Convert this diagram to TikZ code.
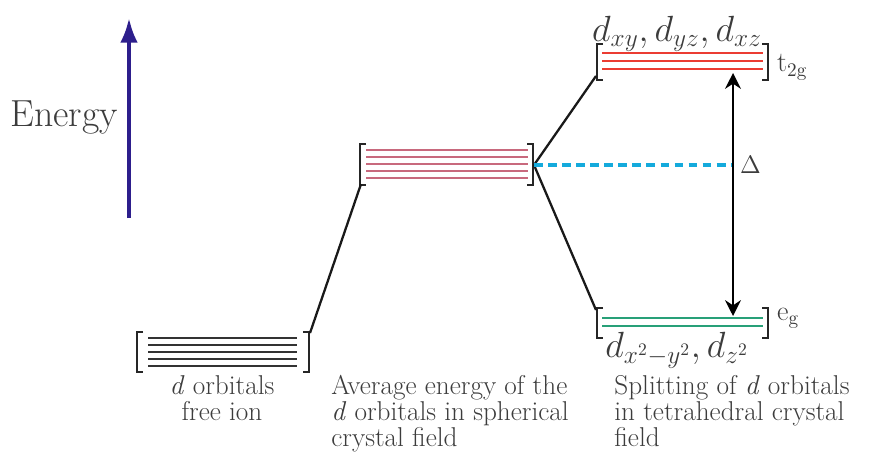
\documentclass[tikz,border=0pt]{standalone}
\usetikzlibrary{arrows.meta}
\definecolor{energyblue}{RGB}{45,30,140}
\definecolor{avgred}{RGB}{200,105,125}
\definecolor{tred}{RGB}{235,60,50}
\definecolor{egreen}{RGB}{40,160,120}
\definecolor{dashcyan}{RGB}{20,170,220}
\definecolor{txt}{RGB}{60,60,60}
\tikzset{
  bracket/.style={line width=1.5pt, black!85},
  link/.style={line width=1.3pt, black!90},
  lbl/.style={text=txt, font=\fontsize{15.5}{14.8}\selectfont, align=left, inner sep=0pt}
}
\begin{document}
\begin{tikzpicture}[x=0.02cm, y=-0.02cm, >=Stealth]
  \useasboundingbox (0,0) rectangle (875,451);

  % energy axis
  \draw[->, energyblue, line width=2.2pt, -{Latex[length=14pt,width=10pt]}] (129,218) -- (129,18);
  \node[text=txt, font=\fontsize{21.5}{24}\selectfont] (energy) at (64,117) {Energy};

  % free ion
  \foreach \y in {338,345,352,359,366}
    \draw[line width=1.1pt, black!80] (148,\y) -- (297,\y);
  \draw[bracket] (143,332) -- (137,332) -- (137,372) -- (143,372);
  \draw[bracket] (303,332) -- (309,332) -- (309,372) -- (303,372);
  \coordinate (free-r) at (310,333);
  \node[lbl, align=center] (freelbl) at (222,398) {\textit{d} orbitals\\free ion};

  % spherical field
  \foreach \y in {150,157,164,171,178}
    \draw[line width=1.1pt, avgred] (366,\y) -- (528,\y);
  \draw[bracket] (366,144) -- (360,144) -- (360,185) -- (366,185);
  \draw[bracket] (527,144) -- (533,144) -- (533,185) -- (527,185);
  \coordinate (avg-l) at (361,184);
  \coordinate (avg-r) at (534,165);
  \node[lbl, anchor=north west] (avglbl) at (331,375) {Average energy of the\\\textit{d} orbitals in spherical\\crystal field};

  % t2g
  \foreach \y in {53,61,69}
    \draw[line width=1.2pt, tred] (602,\y) -- (763,\y);
  \draw[bracket] (603,44) -- (597,44) -- (597,80) -- (603,80);
  \draw[bracket] (762,44) -- (768,44) -- (768,80) -- (762,80);
  \coordinate (t-l) at (596,76);
  \coordinate (t-mid) at (733,73);
  \node[text=txt, font=\fontsize{20}{24}\selectfont] (tlbl) at (677,34) {$d_{xy}, d_{yz}, d_{xz}$};
  \node[text=txt, font=\fontsize{16}{18}\selectfont, anchor=west] (t2g) at (771,67) {t$_{\mathrm{2g}}$};

  % eg
  \foreach \y in {318,326}
    \draw[line width=1.2pt, egreen] (602,\y) -- (763,\y);
  \draw[bracket] (603,308) -- (597,308) -- (597,338) -- (603,338);
  \draw[bracket] (762,308) -- (768,308) -- (768,338) -- (762,338);
  \coordinate (e-l) at (596,310);
  \coordinate (e-mid) at (733,316);
  \node[text=txt, font=\fontsize{20}{24}\selectfont] (elbl) at (677,350) {$d_{x^2-y^2}, d_{z^2}$};
  \node[text=txt, font=\fontsize{16}{18}\selectfont, anchor=west] (eg) at (771,318) {e$_{\mathrm{g}}$};
  \node[lbl, anchor=north west] (splitlbl) at (614,375) {Splitting of \textit{d} orbitals\\in tetrahedral crystal\\field};

  % connectors
  \draw[link] (free-r) -- (avg-l);
  \draw[link] (avg-r) -- (t-l);
  \draw[link] (avg-r) -- (e-l);
  \coordinate (delta-pt) at (731,165);
  \draw[dashcyan, line width=1.8pt, dash pattern=on 5pt off 3pt] (avg-r) -- (delta-pt);
  \draw[<->, line width=1.3pt, {Stealth[length=9pt,width=9pt]}-{Stealth[length=9pt,width=9pt]}] (t-mid) -- (e-mid);
  \node[text=txt, font=\fontsize{15}{18}\selectfont, anchor=west] (delta) at (734,165) {$\Delta$};
\end{tikzpicture}
\end{document}
